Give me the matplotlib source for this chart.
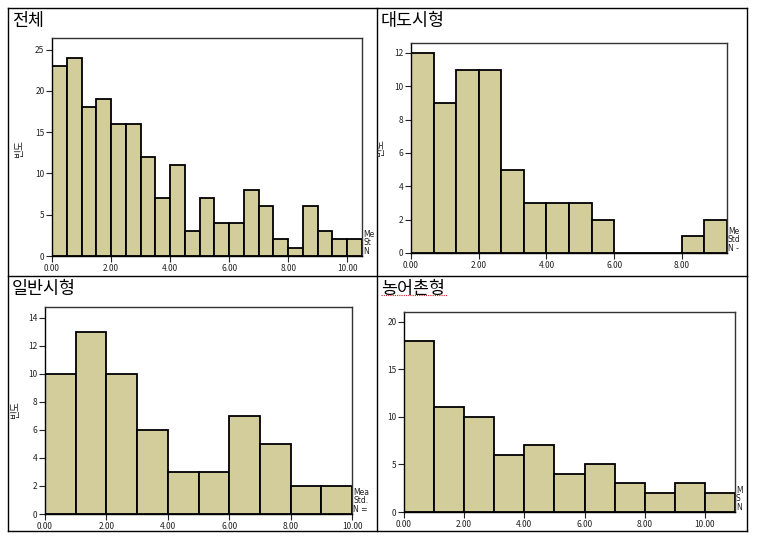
import numpy as np
import matplotlib.pyplot as plt
from matplotlib.lines import Line2D
from matplotlib.transforms import Bbox

plt.rcParams['font.family'] = ['Noto Sans CJK KR', 'DejaVu Sans']

# histogram counts
titles = ["전체", "대도시형", "일반시형", "농어촌형"]
total_counts = [23, 24, 18, 19, 16, 16, 12, 7, 11, 3, 7, 4, 4, 8, 6, 2, 1, 6, 3, 2, 2]
metro_counts = [12, 9, 11, 11, 5, 3, 3, 3, 2, 0, 0, 0, 1, 2]
general_counts = [10, 13, 10, 6, 3, 3, 7, 5, 2, 2]
rural_counts = [18, 11, 10, 6, 7, 4, 5, 3, 2, 3, 2]
bin_widths = [0.5, 2 / 3, 1.0, 1.0]
y_ticks = [[0, 5, 10, 15, 20, 25], [0, 2, 4, 6, 8, 10, 12],
           [0, 2, 4, 6, 8, 10, 12, 14], [0, 5, 10, 15, 20]]
x_ticks = [[0, 2, 4, 6, 8, 10], [0, 2, 4, 6, 8],
           [0, 2, 4, 6, 8, 10], [0, 2, 4, 6, 8, 10]]
y_tops = [26.4, 12.6, 14.75, 21.05]
ylabel = "빈도"
# stats legend, cut off by the table cell in the original
stats_texts = ["Me\nSt\nN", "Me\nStd\nN -", "Mea\nStd.\nN =", "M\nS\nN"]

W, H = 759, 546
fig = plt.figure(figsize=(W / 100, H / 100), dpi=100)

def fx(px):
    return px / W

def fy(py):
    return 1 - py / H

# axes boxes in pixels: left, top, right, bottom
boxes = [(52, 38, 362, 256), (411, 43, 727, 253),
         (45, 307, 352, 514), (404, 312, 735, 512)]
# table cells in pixels
cells = [(8, 8, 377, 276), (377, 8, 747, 276),
         (8, 276, 377, 531), (377, 276, 747, 531)]
all_counts = [total_counts, metro_counts, general_counts, rural_counts]

bar_color = '#d3cd9c'

for i in range(4):
    l, t, r, b = boxes[i]
    ax = fig.add_axes([fx(l), fy(b), fx(r - l), (b - t) / H])
    counts = np.array(all_counts[i])
    w = bin_widths[i]
    edges = np.arange(len(counts)) * w
    ax.bar(edges, counts, width=w, align='edge', color=bar_color,
           edgecolor='black', linewidth=1.3)
    ax.set_xlim(0, len(counts) * w)
    ax.set_ylim(0, y_tops[i])
    ax.set_xticks(x_ticks[i])
    ax.set_xticklabels(["%.2f" % v for v in x_ticks[i]])
    ax.set_yticks(y_ticks[i])
    ax.tick_params(length=4, width=0.8, labelsize=6, pad=1.5, colors='#222222')
    for s in ax.spines.values():
        s.set_linewidth(1.0)
        s.set_color('#333333')
    ax.spines['left'].set_color('black')
    ax.spines['bottom'].set_color('black')

    cl, ct, cr, cb = cells[i]

    fig.text(fx(r + 1), fy(b), stats_texts[i], fontsize=5.5,
             family='DejaVu Sans', va='bottom', ha='left',
             linespacing=0.95, color='#222222')

    # title
    fig.text(fx(cl + 4), fy(ct + 4), titles[i], fontsize=12.5,
             va='top', ha='left', color='black')

# y labels
ylab_pos = [(19, 149), (380, 148), (15, 410)]
for i, (px, py) in enumerate(ylab_pos):
    cl, ct, cr, cb = cells[i]
    lab = fig.text(fx(px), fy(py), ylabel, fontsize=7, rotation=90,
                   va='center', ha='center', color='#222222')
    lab.set_clip_box(Bbox([[cl, H - cb], [cr, H - ct]]))
    lab.set_clip_on(True)

# table borders
for x0, y0, x1, y1 in [(8, 8, 747, 8), (8, 276, 747, 276), (8, 531, 747, 531),
                       (8, 8, 8, 531), (377, 8, 377, 531), (747, 8, 747, 531)]:
    fig.add_artist(Line2D([fx(x0), fx(x1)], [fy(y0), fy(y1)],
                          color='black', linewidth=1.0))

# spell-check underline under the last title
fig.add_artist(Line2D([fx(381), fx(447)], [fy(295), fy(295)],
                      color='#cc2222', linewidth=0.8, linestyle=(0, (1, 1))))

fig.savefig("out.png", dpi=100)
